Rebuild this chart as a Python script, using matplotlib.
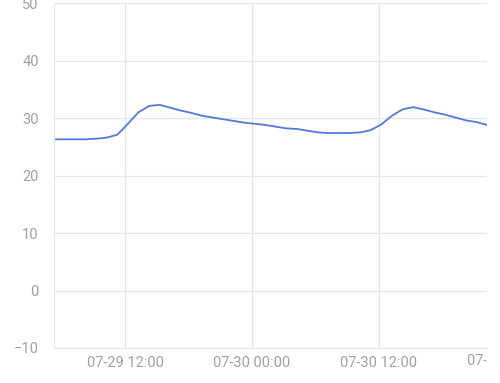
import numpy as np
import pandas as pd
import matplotlib
matplotlib.use("Agg")
import matplotlib.pyplot as plt
import matplotlib.dates as mdates
from matplotlib.transforms import Bbox

plt.rcParams['font.family'] = ['Roboto', 'DejaVu Sans']

# hourly readings, 07-29 05:15 -> 07-30 22:15
times = pd.date_range("2024-07-29 05:15", periods=42, freq="h")
temps = [26.3, 26.3, 26.3, 26.3, 26.4, 26.6, 27.1, 29.0, 31.0, 32.1,
         32.3, 31.8, 31.3, 30.9, 30.4, 30.1, 29.8, 29.5, 29.2, 29.0,
         28.8, 28.5, 28.2, 28.1, 27.8, 27.5, 27.4, 27.4, 27.4, 27.5,
         27.9, 28.9, 30.4, 31.5, 31.9, 31.5, 31.0, 30.6, 30.1, 29.6,
         29.3, 28.8]

x_ticks = pd.to_datetime(["2024-07-29 12:00", "2024-07-30 00:00", "2024-07-30 12:00"])
x_labels = ["07-29 12:00", "07-30 00:00", "07-30 12:00"]
extra_tick = pd.Timestamp("2024-07-31 00:00")
extra_label = "07-31 00:00"
y_ticks = [-10, 0, 10, 20, 30, 40, 50]

grid_c = "#e6e6e6"
label_c = "#a0a0a0"

fig = plt.figure(figsize=(5, 3.83), dpi=100)
ax = fig.add_axes([0.108, 0.0914, 0.866, 0.9006])

ax.plot(times, temps, color="#5578db", lw=1.3, solid_capstyle="round", solid_joinstyle="round")

ax.set_xlim(times[0], times[-1])
ax.set_ylim(-10, 50)
ax.set_yticks(y_ticks)
ax.set_xticks(x_ticks)
ax.set_xticklabels(x_labels)

ax.grid(True, color=grid_c, lw=1)
ax.set_axisbelow(True)
ax.tick_params(length=0, colors=label_c, labelsize=10.5)
ax.tick_params(axis="y", pad=11)
ax.tick_params(axis="x", pad=6)
for side in ["top", "right"]:
    ax.spines[side].set_visible(False)
for side in ["left", "bottom"]:
    ax.spines[side].set_color(grid_c)

# the next day's label, cut off where the chart area ends
t = ax.text(mdates.date2num(extra_tick), -0.038, extra_label, transform=ax.get_xaxis_transform(),
            ha="center", va="center", color=label_c, fontsize=10.5)
t.set_clip_on(True)
t.set_clip_box(Bbox([[0, 0], [486, 383]]))

fig.savefig("out.png", dpi=100)
